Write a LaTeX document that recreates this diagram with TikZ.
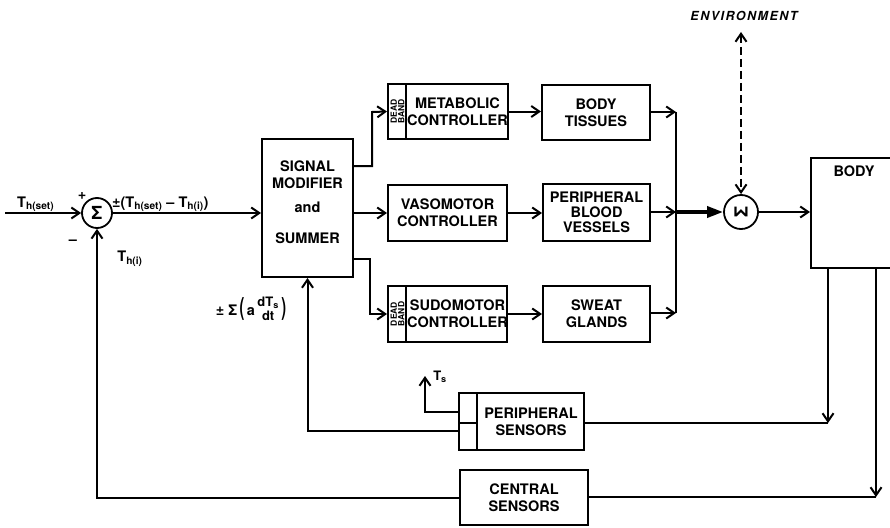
\documentclass[tikz,border=0pt]{standalone}
\usepackage{fontspec}
\setmainfont{TeX Gyre Heros}
\usetikzlibrary{arrows.meta,positioning,calc}
\tikzset{
  tbox/.style={draw=black, line width=2pt, inner sep=0pt},
  tlabel/.style={font=\fontsize{14.5}{17}\selectfont\bfseries, align=center, inner sep=0pt},
  dbtext/.style={font=\fontsize{8.5}{7.5}\selectfont\bfseries, align=center, inner sep=0pt, rotate=90},
  sumcirc/.style={circle, draw=black, line width=1.8pt, inner sep=0pt, font=\fontsize{18}{18}\selectfont\bfseries},
  tline/.style={line width=2pt},
  tarrow/.style={-{Straight Barb[length=8pt,width=11pt]}, line width=2pt},
  tbig/.style={-{Triangle[length=16pt,width=11pt]}, line width=3.5pt}
}

\begin{document}
\begin{tikzpicture}[x=1pt,y=-1pt]
  \useasboundingbox (0,0) rectangle (890,527);
  % summing points
  \node[sumcirc, minimum size=30pt] (sumin) at (97,213) {Σ};
  \node[sumcirc, minimum size=34pt] (sumbody) at (741,212) {\rotatebox{90}{Σ}};
  % blocks
  \node[tbox, minimum width=91pt, minimum height=138pt] (summer) at (307.5,208) {};
  \node[tlabel] (summertop) at (307.5,175) {SIGNAL\\MODIFIER};
  \node[tlabel] (summerand) at (307.5,207) {and};
  \node[tlabel] (summerbot) at (307.5,238) {SUMMER};
  \node[tbox, minimum width=120pt, minimum height=55pt] (metab) at (448,111.5) {};
  \node[tlabel] (metabtxt) at (457.5,112) {METABOLIC\\CONTROLLER};
  \node[dbtext] (metabdb) at (397.5,111.5) {DEAD\\BAND};
  \node[tbox, minimum width=119pt, minimum height=56pt] (vaso) at (447.5,213) {};
  \node[tlabel] (vasotxt) at (447.5,213) {VASOMOTOR\\CONTROLLER};
  \node[tbox, minimum width=119pt, minimum height=56pt] (sudo) at (447.5,314) {};
  \node[tlabel] (sudotxt) at (457.5,314) {SUDOMOTOR\\CONTROLLER};
  \node[dbtext] (sudodb) at (397.5,314) {DEAD\\BAND};
  \node[tbox, minimum width=108pt, minimum height=55pt] (tissues) at (596,112.5) {};
  \node[tlabel] (tissuestxt) at (596,112.5) {BODY\\TISSUES};
  \node[tbox, minimum width=107pt, minimum height=57pt] (vessels) at (596.5,212.5) {};
  \node[tlabel, font=\fontsize{14.5}{15}\selectfont\bfseries] (vesselstxt) at (596.5,212.5) {PERIPHERAL\\BLOOD\\VESSELS};
  \node[tbox, minimum width=107pt, minimum height=56pt] (glands) at (596.5,314) {};
  \node[tlabel] (glandstxt) at (596.5,314) {SWEAT\\GLANDS};
  \node[tbox, minimum width=92pt, minimum height=110pt] (body) at (857,213) {};
  \node[tlabel] (bodytxt) at (854,171) {BODY};
  \node[tbox, minimum width=125pt, minimum height=57pt] (periph) at (521.5,421.5) {};
  \node[tlabel] (periphtxt) at (531,422) {PERIPHERAL\\SENSORS};
  \node[tbox, minimum width=128pt, minimum height=55pt] (central) at (524,497.5) {};
  \node[tlabel] (centraltxt) at (524,497.5) {CENTRAL\\SENSORS};
  % dead band and sensor compartments
  \draw[tline] ([xshift=19pt]metab.north west) -- ([xshift=19pt]metab.south west);
  \draw[tline] ([xshift=19pt]sudo.north west) -- ([xshift=19pt]sudo.south west);
  \draw[tline] ([xshift=19pt]periph.north west) -- ([xshift=19pt]periph.south west);
  \draw[tline] (periph.west |- 0,423) -- (478,423);
  % labels
  \node[tlabel, anchor=base west] (thset) at (17,207) {T\textsubscript{h(set)}};
  \node[tlabel] (plus) at (82,196) {+};
  \node[tlabel] (minus) at (73,242) {–};
  \node[tlabel] (thi) at (130,259) {T\textsubscript{h(i)}};
  \node[tlabel, anchor=base west] (errlbl) at (112,207) {±(T\textsubscript{h(set)} – T\textsubscript{h(i)})};
  \node[tlabel] (ratelbl) at (251,309) {± Σ\,\scalebox{1}[1.7]{(}\,a\,\raisebox{-5pt}{\fontsize{13}{13}\selectfont\shortstack{dT\textsubscript{s}\\dt}}\,\scalebox{1}[1.7]{)}};
  \node[tlabel, font=\fontsize{12.5}{12}\selectfont\bfseries\itshape\addfontfeature{LetterSpace=12}] (envlbl) at (744,16) {ENVIRONMENT};
  \node[tlabel, font=\fontsize{13}{13}\selectfont\bfseries] (tslbl) at (440,377) {T\textsubscript{s}};
  % connectors
  \coordinate (inp) at (5,213);
  \coordinate (mtop) at (676,112);
  \coordinate (mmid) at (676,212);
  \coordinate (mbot) at (676,313);
  \coordinate (env) at (741,32);
  \coordinate (cper) at (828,423);
  \coordinate (ccen) at (876,497);
  \coordinate (tsout) at (425,376);
  \draw[tarrow] (inp) -- (sumin);
  \draw[tarrow] (sumin) -- (sumin -| summer.west);
  \draw[tarrow] (summer.east |- 0,166) -| (372,112) -- (metab.west);
  \draw[tarrow] (summer.east |- vaso) -- (vaso.west);
  \draw[tarrow] (summer.east |- 0,259) -| (370,314) -- (sudo.west);
  \draw[tarrow] (metab.east) -- (metab.east -| tissues.west);
  \draw[tarrow] (vaso.east) -- (vaso.east -| vessels.west);
  \draw[tarrow] (sudo.east) -- (sudo.east -| glands.west);
  \draw[tarrow] (tissues.east |- mtop) -- (mtop);
  \draw[tarrow] (vessels.east |- mmid) -- (mmid);
  \draw[tarrow] (glands.east |- mbot) -- (mbot);
  \draw[tline] (mtop) -- (mbot);
  \draw[tbig] (mmid) -- (sumbody.west);
  \draw[tarrow] (sumbody.east) -- (sumbody.east -| body.west);
  \draw[tline, dash pattern=on 8pt off 4pt, {Straight Barb[length=8pt,width=11pt]}-{Straight Barb[length=8pt,width=11pt]}] (env) -- (sumbody.north);
  \draw[tarrow] (body.south -| cper) -- (cper);
  \draw[tline] (cper) -- (cper -| periph.east);
  \draw[tarrow] (body.south -| ccen) -- (ccen);
  \draw[tline] (ccen) -- (ccen -| central.east);
  \draw[tarrow] (central.west) -- (central.west -| sumin) -- (sumin.south);
  \draw[tarrow] (periph.west |- 0,431) -| (summer.south);
  \draw[tarrow] (periph.west |- 0,412) -| (tsout);
\end{tikzpicture}
\end{document}
